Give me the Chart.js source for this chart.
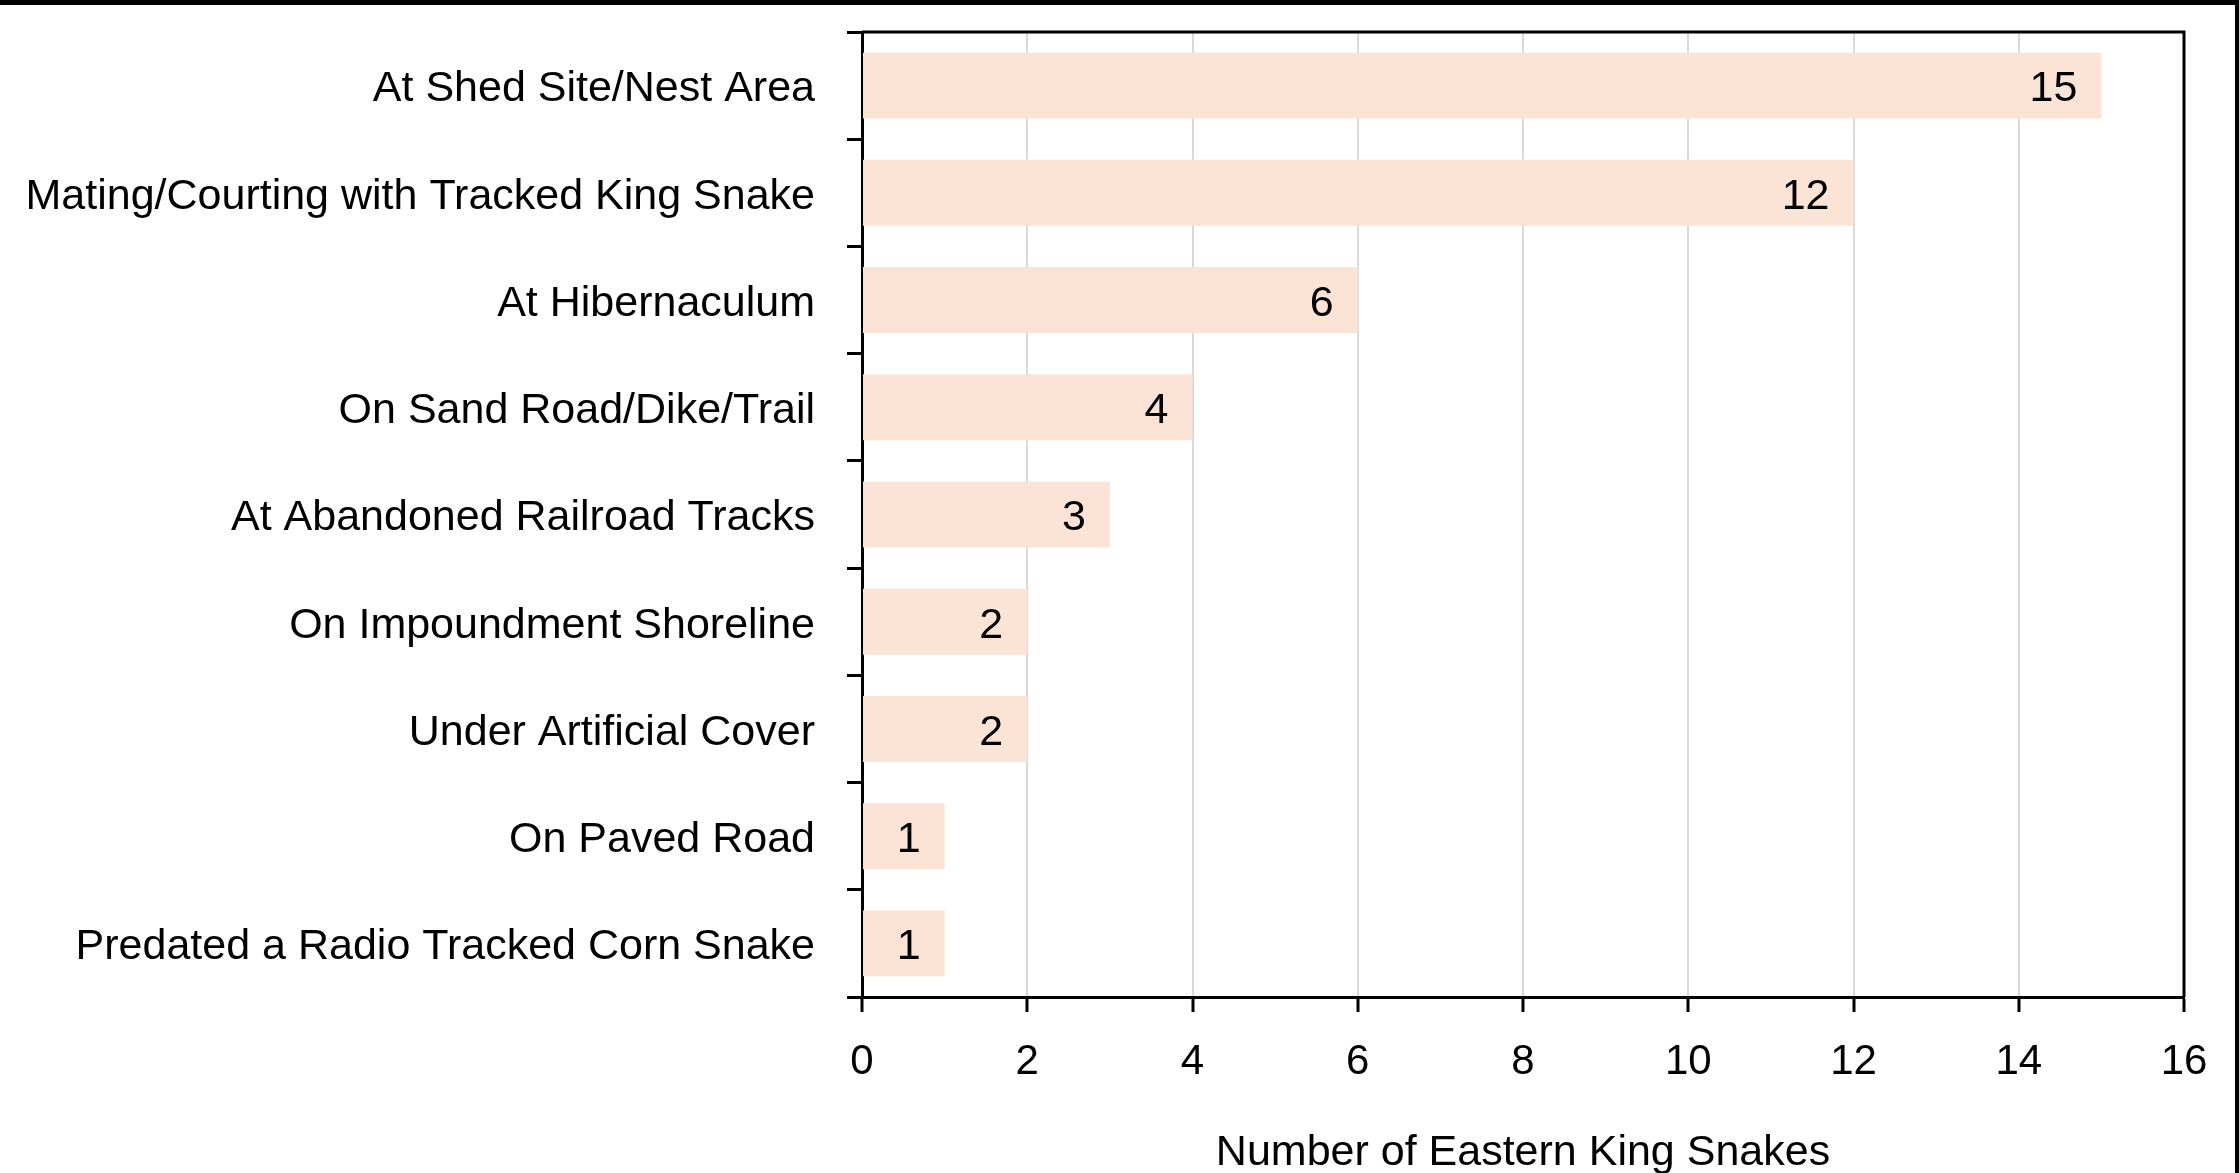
<!DOCTYPE html>
<html>
<head>
<meta charset="utf-8">
<title>Eastern King Snake observations</title>
<script src="https://cdn.jsdelivr.net/npm/chart.js@4/dist/chart.umd.min.js"></script>
<style>
  html, body { margin: 0; padding: 0; background: #ffffff; }
  #wrap { position: relative; width: 2239px; height: 1173px; overflow: hidden; }
  canvas { display: block; }
</style>
</head>
<body>
<div id="wrap"><canvas id="chart" width="2239" height="1173"></canvas></div>
<script>
// Where the snakes were found
const categories = [
  'At Shed Site/Nest Area',
  'Mating/Courting with Tracked King Snake',
  'At Hibernaculum',
  'On Sand Road/Dike/Trail',
  'At Abandoned Railroad Tracks',
  'On Impoundment Shoreline',
  'Under Artificial Cover',
  'On Paved Road',
  'Predated a Radio Tracked Corn Snake'
];
// Number of Eastern King Snakes per situation
const snakeCounts = [15, 12, 6, 4, 3, 2, 2, 1, 1];
// Value axis range and tick step
const axisMin = 0;
const axisMax = 16;
const axisStep = 2;
const axisTitle = 'Number of Eastern King Snakes';

const FONT = '"Liberation Sans", Arial, sans-serif';

// Value labels just inside the end of each bar
const barValueLabels = {
  id: 'barValueLabels',
  afterDatasetsDraw(chart) {
    const ctx = chart.ctx;
    const meta = chart.getDatasetMeta(0);
    const values = chart.data.datasets[0].data;
    ctx.save();
    ctx.font = '43px ' + FONT;
    ctx.fillStyle = '#000000';
    ctx.textAlign = 'right';
    ctx.textBaseline = 'middle';
    meta.data.forEach((bar, i) => {
      ctx.fillText(String(values[i]), bar.x - 24, bar.y + 4);
    });
    ctx.restore();
  }
};

// Black frame on the top and right of the plot, and the outer page edges
const frame = {
  id: 'frame',
  afterDraw(chart) {
    const ctx = chart.ctx;
    const a = chart.chartArea;
    ctx.save();
    ctx.strokeStyle = '#000000';
    ctx.lineWidth = 3;
    ctx.beginPath();
    ctx.moveTo(a.left, a.top);
    ctx.lineTo(a.right + 1.5, a.top);
    ctx.moveTo(a.right, a.top);
    ctx.lineTo(a.right, a.bottom);
    ctx.stroke();
    ctx.fillStyle = '#000000';
    ctx.fillRect(0, 0, chart.width, 5);
    ctx.fillRect(chart.width - 4, 0, 4, chart.height);
    ctx.restore();
  }
};

new Chart(document.getElementById('chart'), {
  type: 'bar',
  data: {
    labels: categories,
    datasets: [{
      data: snakeCounts,
      backgroundColor: '#FBE3D6',
      borderWidth: 0,
      categoryPercentage: 1.0,
      barPercentage: 0.615
    }]
  },
  options: {
    indexAxis: 'y',
    responsive: false,
    animation: false,
    devicePixelRatio: 1,
    layout: { padding: { top: 32, right: 55, left: 0, bottom: 0 } },
    plugins: {
      legend: { display: false },
      tooltip: { enabled: false }
    },
    scales: {
      x: {
        min: axisMin,
        max: axisMax,
        ticks: {
          stepSize: axisStep,
          maxRotation: 0,
          color: '#000000',
          padding: 25,
          font: { family: FONT, size: 42 }
        },
        grid: {
          color: '#D9D9D9',
          lineWidth: 2,
          tickColor: '#000000',
          tickWidth: 3,
          tickLength: 15
        },
        border: { color: '#000000', width: 3 },
        title: {
          display: true,
          text: axisTitle,
          color: '#000000',
          font: { family: FONT, size: 43, lineHeight: 0.92 },
          padding: { top: 0, bottom: 0 }
        },
        afterFit(scale) { scale.height = 176; }
      },
      y: {
        ticks: {
          color: '#000000',
          padding: 32,
          labelOffset: 4,
          font: { family: FONT, size: 43 }
        },
        grid: {
          offset: true,
          drawOnChartArea: false,
          tickColor: '#000000',
          tickWidth: 3,
          tickLength: 15
        },
        border: { color: '#000000', width: 3 },
        afterFit(scale) {
          scale.width = 862;
          scale.paddingTop = 0;
          scale.paddingBottom = 0;
        }
      }
    }
  },
  plugins: [barValueLabels, frame]
});
</script>
</body>
</html>
